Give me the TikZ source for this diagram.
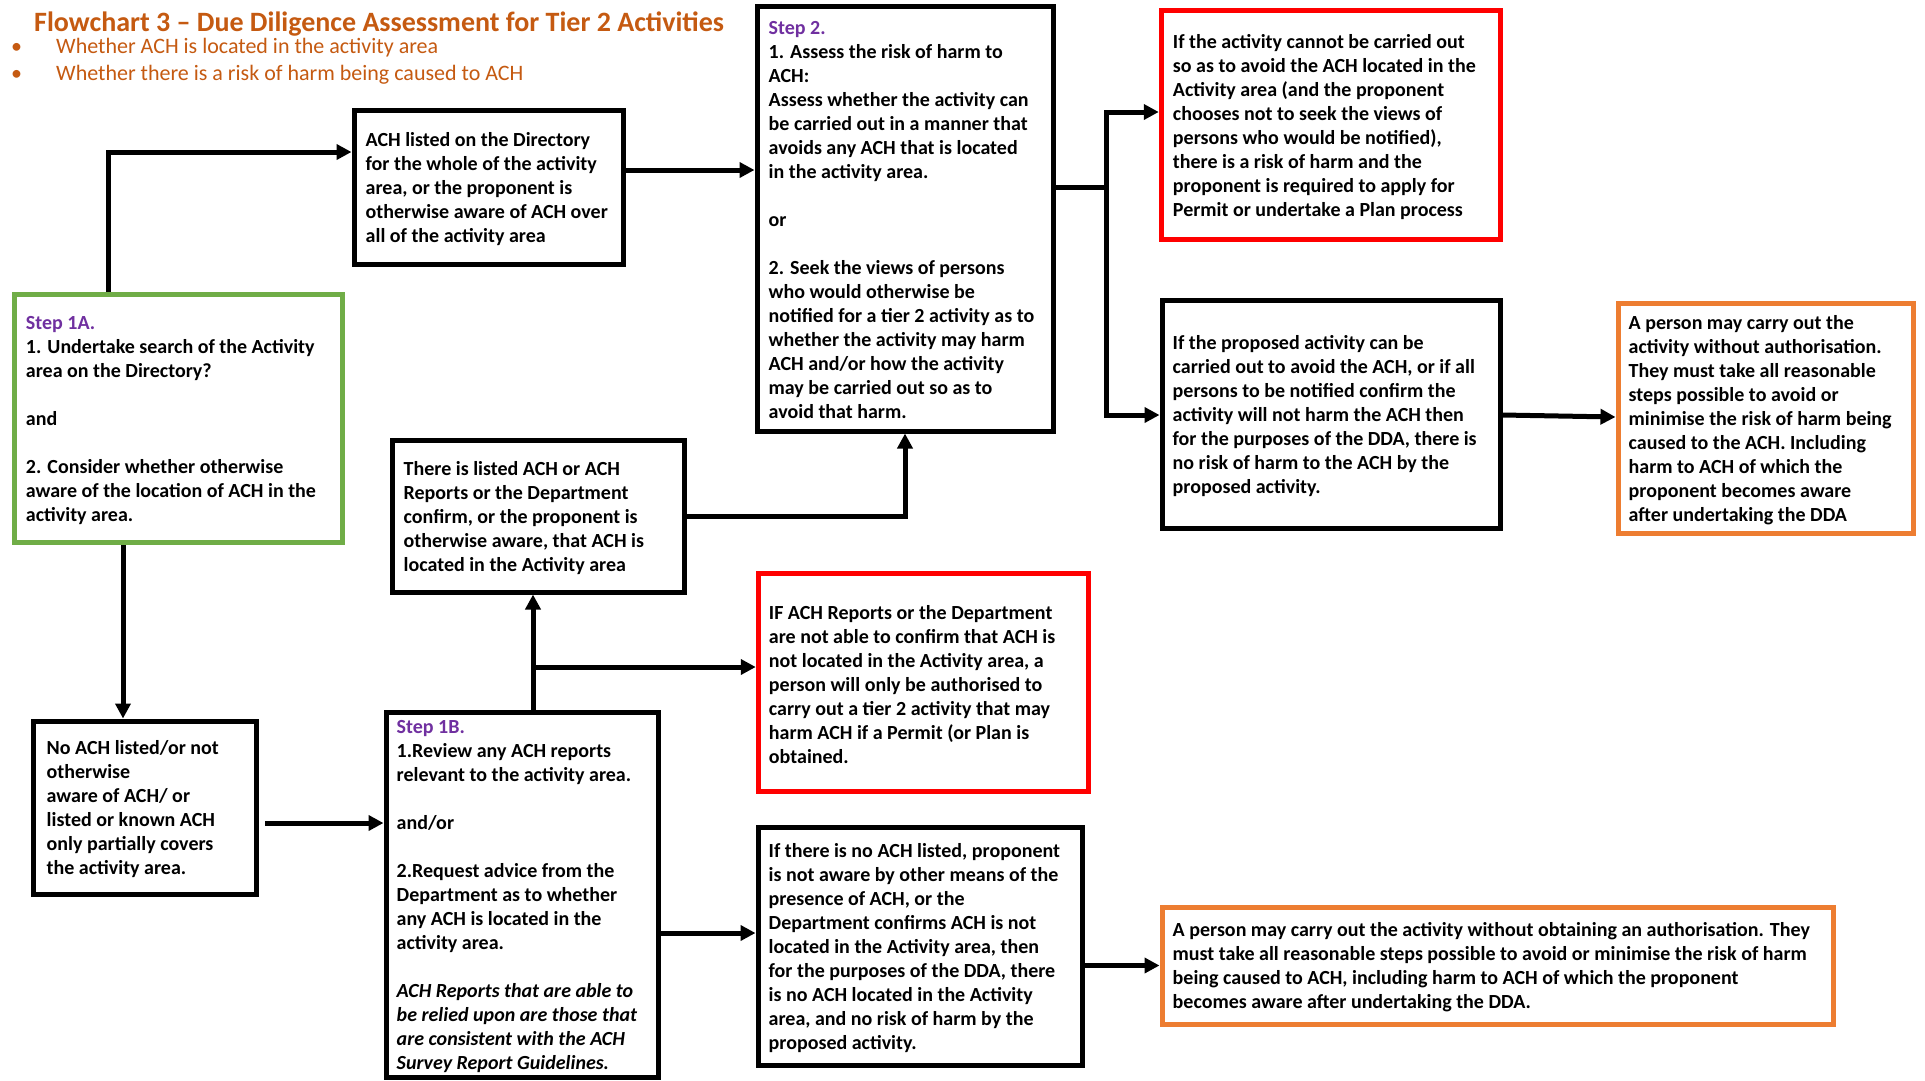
\documentclass[tikz,border=0pt]{standalone}
\usepackage{fontspec}
\setmainfont{Carlito}
\usetikzlibrary{arrows.meta,calc}
\definecolor{ttl}{HTML}{C55A11}
\definecolor{grn}{HTML}{70AD47}
\definecolor{redb}{HTML}{FF0000}
\definecolor{orb}{HTML}{ED7D31}
\definecolor{prp}{HTML}{7030A0}
\tikzset{
 box/.style={draw=black, line width=5pt, rectangle, inner sep=0pt},
 gbox/.style={box, draw=grn, line width=5.5pt},
 rbox/.style={box, draw=redb, line width=5.5pt},
 obox/.style={box, draw=orb, line width=5pt},
 txt/.style={anchor=west, align=left, inner sep=0pt, yshift=-2pt, font=\fontsize{20}{24}\selectfont\bfseries},
 arr/.style={line width=5pt, -{Triangle[length=15pt,width=15pt]}},
 ln/.style={line width=5pt},
 hd/.style={anchor=base west, inner sep=0pt, text=ttl},
}
\newcommand{\stp}[1]{\textcolor{prp}{#1}}
\begin{document}
\begin{tikzpicture}[x=1pt,y=-1pt]
\fill[white] (0,0) rectangle (1925,1080);
\useasboundingbox (0,0) rectangle (1925,1080);

% heading
\node[hd, font=\fontsize{28}{34}\selectfont\bfseries] (title) at (34,31) {Flowchart 3 – Due Diligence Assessment for Tier 2 Activities};
\node[hd, font=\fontsize{22}{26}\selectfont] (bul1) at (11,53) {•};
\node[hd, font=\fontsize{22}{26}\selectfont] (b1) at (56,53) {Whether ACH is located in the activity area};
\node[hd, font=\fontsize{22}{26}\selectfont] (bul2) at (11,80) {•};
\node[hd, font=\fontsize{22}{26}\selectfont] (b2) at (56,80) {Whether there is a risk of harm being caused to ACH};

% boxes
\node[gbox, minimum width=328pt, minimum height=248pt] (s1a) at (178.5,418.5) {};
\node[box, minimum width=269pt, minimum height=154pt] (ach) at (488.5,187) {};
\node[box, minimum width=296pt, minimum height=425pt] (s2) at (905,218.5) {};
\node[rbox, minimum width=339pt, minimum height=229pt] (red1) at (1331,125) {};
\node[box, minimum width=338pt, minimum height=228pt] (prop) at (1331,414) {};
\node[obox, minimum width=295pt, minimum height=230pt] (or1) at (1765.5,418) {};
\node[box, minimum width=292pt, minimum height=152pt] (listed) at (538,516) {};
\node[rbox, minimum width=330pt, minimum height=218pt] (red2) at (923.5,682.5) {};
\node[box, minimum width=223pt, minimum height=173pt] (noach) at (144.5,807.5) {};
\node[box, minimum width=272pt, minimum height=365pt] (s1b) at (522,894.5) {};
\node[box, minimum width=324pt, minimum height=238pt] (nb) at (920,946) {};
\node[obox, minimum width=671pt, minimum height=117pt] (or2) at (1497.5,965.5) {};

% texts
\node[txt] (s1aT) at ([xshift=14pt]s1a.west) {\stp{Step 1A.}\\
1. Undertake search of the Activity\\
area on the Directory?\\[24pt]
and\\[24pt]
2. Consider whether otherwise\\
aware of the location of ACH in the\\
activity area.};
\node[txt] (achT) at ([xshift=14pt]ach.west) {ACH listed on the Directory\\
for the whole of the activity\\
area, or the proponent is\\
otherwise aware of ACH over\\
all of the activity area};
\node[txt] (s2T) at ([xshift=14pt]s2.west) {\stp{Step 2.}\\
1. Assess the risk of harm to\\
ACH:\\
Assess whether the activity can\\
be carried out in a manner that\\
avoids any ACH that is located\\
in the activity area.\\[24pt]
or\\[24pt]
2. Seek the views of persons\\
who would otherwise be\\
notified for a tier 2 activity as to\\
whether the activity may harm\\
ACH and/or how the activity\\
may be carried out so as to\\
avoid that harm.};
\node[txt] (red1T) at ([xshift=14pt]red1.west) {If the activity cannot be carried out\\
so as to avoid the ACH located in the\\
Activity area (and the proponent\\
chooses not to seek the views of\\
persons who would be notified),\\
there is a risk of harm and the\\
proponent is required to apply for\\
Permit or undertake a Plan process};
\node[txt] (propT) at ([xshift=13pt]prop.west) {If the proposed activity can be\\
carried out to avoid the ACH, or if all\\
persons to be notified confirm the\\
activity will not harm the ACH then\\
for the purposes of the DDA, there is\\
no risk of harm to the ACH by the\\
proposed activity.};
\node[txt] (or1T) at ([xshift=13pt]or1.west) {A person may carry out the\\
activity without authorisation.\\
They must take all reasonable\\
steps possible to avoid or\\
minimise the risk of harm being\\
caused to the ACH. Including\\
harm to ACH of which the\\
proponent becomes aware\\
after undertaking the DDA};
\node[txt] (listedT) at ([xshift=14pt]listed.west) {There is listed ACH or ACH\\
Reports or the Department\\
confirm, or the proponent is\\
otherwise aware, that ACH is\\
located in the Activity area};
\node[txt] (red2T) at ([xshift=13pt]red2.west) {IF ACH Reports or the Department\\
are not able to confirm that ACH is\\
not located in the Activity area, a\\
person will only be authorised to\\
carry out a tier 2 activity that may\\
harm ACH if a Permit (or Plan is\\
obtained.};
\node[txt] (noachT) at ([xshift=16pt]noach.west) {No ACH listed/or not\\
otherwise\\
aware of ACH/ or\\
listed or known ACH\\
only partially covers\\
the activity area.};
\node[txt] (s1bT) at ([xshift=13pt]s1b.west) {\stp{Step 1B.}\\
1.Review any ACH reports\\
relevant to the activity area.\\[24pt]
and/or\\[24pt]
2.Request advice from the\\
Department as to whether\\
any ACH is located in the\\
activity area.\\[24pt]
\textit{ACH Reports that are able to}\\
\textit{be relied upon are those that}\\
\textit{are consistent with the ACH}\\
\textit{Survey Report Guidelines.}};
\node[txt] (nbT) at ([xshift=13pt]nb.west) {If there is no ACH listed, proponent\\
is not aware by other means of the\\
presence of ACH, or the\\
Department confirms ACH is not\\
located in the Activity area, then\\
for the purposes of the DDA, there\\
is no ACH located in the Activity\\
area, and no risk of harm by the\\
proposed activity.};
\node[txt] (or2T) at ([xshift=13pt]or2.west) {A person may carry out the activity without obtaining an authorisation. They\\
must take all reasonable steps possible to avoid or minimise the risk of harm\\
being caused to ACH, including harm to ACH of which the proponent\\
becomes aware after undertaking the DDA.};

% helper coordinates
\coordinate (xA) at (108,0);
\coordinate (yA) at (0,152);
\coordinate (yB) at (0,170);
\coordinate (j1) at (1106,187);
\coordinate (yR1) at (0,112);
\coordinate (yP1) at (0,415);
\coordinate (yP2) at (0,417);
\coordinate (xF) at (123,0);
\coordinate (xG) at (265,0);
\coordinate (yG) at (0,823);
\coordinate (xH) at (533,0);
\coordinate (yH) at (0,667);
\coordinate (yJ) at (0,933);

% connectors
\draw[arr] (s1a.north -| xA) |- (ach.west |- yA);
\draw[arr] (ach.east |- yB) -- (s2.west |- yB);
\draw[ln] (s2.east |- j1) -- (j1);
\draw[arr] (j1) |- (red1.west |- yR1);
\draw[arr] (j1) |- (prop.west |- yP1);
\draw[arr] (prop.east |- yP1) -- (or1.west |- yP2);
\draw[arr] (s1a.south -| xF) -- (noach.north -| xF);
\draw[arr] (xG |- yG) -- (s1b.west |- yG);
\draw[arr] (s1b.north -| xH) -- (listed.south -| xH);
\draw[arr] (xH |- yH) -- (red2.west |- yH);
\draw[arr] (listed.east) -| (s2.south);
\draw[arr] (s1b.east |- yJ) -- (nb.west |- yJ);
\draw[arr] (nb.east |- or2.west) -- (or2.west);
\end{tikzpicture}
\end{document}
